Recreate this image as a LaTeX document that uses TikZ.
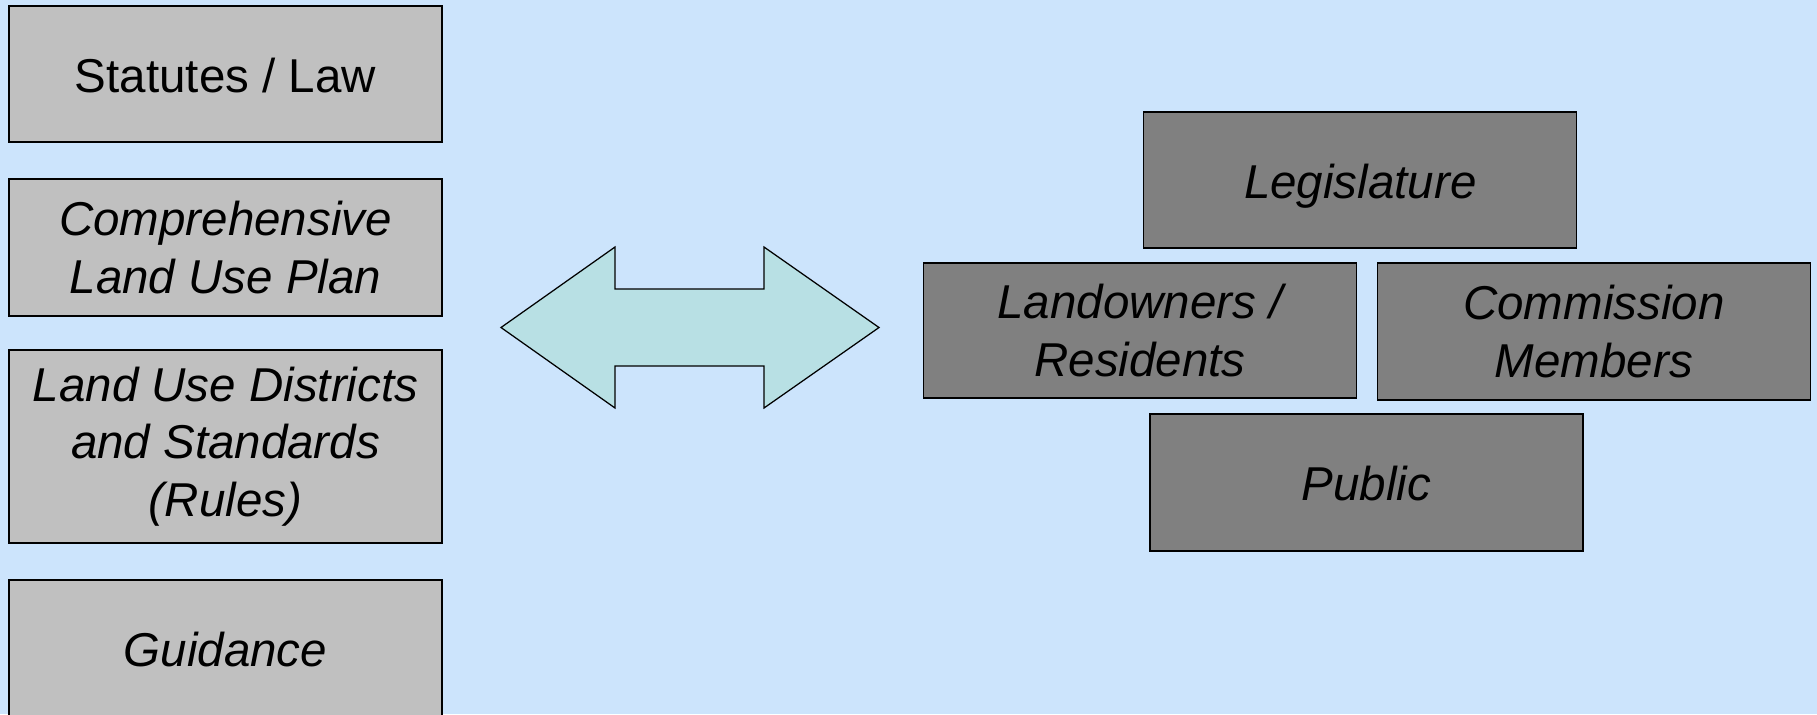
\documentclass[tikz,border=0pt]{standalone}
\usepackage{fontspec}
\setmainfont{Liberation Sans}
\definecolor{bgblue}{RGB}{204,228,252}
\definecolor{lightbox}{RGB}{192,192,192}
\definecolor{darkbox}{RGB}{128,128,128}
\definecolor{arrowfill}{RGB}{184,224,228}

\begin{document}
\begin{tikzpicture}[x=0.4pt,y=-0.4pt,
  box/.style={draw=black, line width=0.5pt, inner sep=0pt, align=center,
    minimum width=173.2pt, font=\fontsize{19}{23}\selectfont},
  oneline/.style={text height=14.5pt, text depth=0pt},
  rulebox/.style={box, fill=lightbox},
  actorbox/.style={box, fill=darkbox, font=\fontsize{19}{23}\selectfont\itshape},
  bigarrow/.style={draw=black, line width=0.5pt, fill=arrowfill, line join=miter}
]
% background and page size
\fill[bgblue] (0,0) rectangle (1817,714);
\useasboundingbox (0,0) rectangle (1817,714);

% left column: sources of rules
\node[rulebox, oneline, minimum height=54.4pt] (statutes) at (225.5,74) {Statutes / Law};
\node[rulebox, minimum height=54.8pt, font=\fontsize{19}{23}\selectfont\itshape] (plan) at (225.5,247.5) {Comprehensive\\Land Use Plan};
\node[rulebox, minimum height=77.2pt, font=\fontsize{19}{23}\selectfont\itshape] (districts) at (225.5,446.5) {Land Use Districts\\and Standards\\(Rules)};
\node[rulebox, oneline, minimum height=54.4pt, font=\fontsize{19}{23}\selectfont\itshape] (guidance) at (225.5,648) {Guidance};

% two-way arrow between the columns
\draw[bigarrow] (501,327.5) -- (615,247) -- (615,289) -- (764,289) -- (764,247)
  -- (879,327.5) -- (764,408) -- (764,366) -- (615,366) -- (615,408) -- cycle;

% right group: participants
\node[actorbox, oneline, minimum height=54.4pt] (legislature) at (1360.3,180) {Legislature};
\node[actorbox, minimum height=54pt] (landowners) at (1140,330.5) {Landowners /\\Residents};
\node[actorbox, minimum height=54.8pt] (commission) at (1593.8,331.5) {Commission\\Members};
\node[actorbox, oneline, minimum height=54.8pt] (public) at (1366.5,482.5) {Public};
\end{tikzpicture}
\end{document}
